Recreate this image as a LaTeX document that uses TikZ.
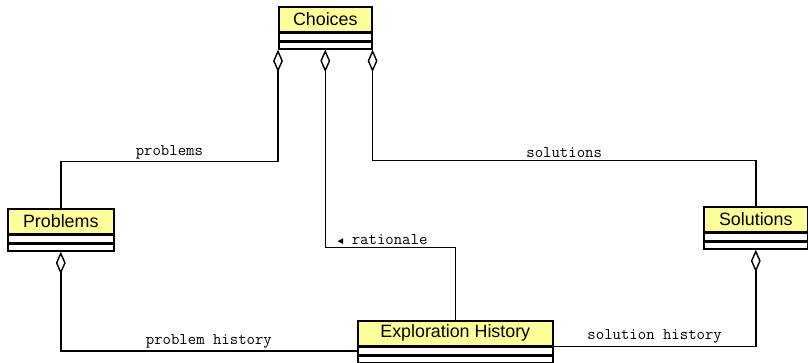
\documentclass[tikz,border=0pt]{standalone}
\usepackage{fontspec}
\setmainfont{Liberation Sans}
\newfontfamily\arrowfont{Liberation Mono}
\usetikzlibrary{arrows.meta}
\definecolor{classyellow}{RGB}{255,255,153}

\begin{document}
\begin{tikzpicture}[
    x=0.025cm, y=-0.025cm,
    every node/.style={text=black},
    classhead/.style={draw, line width=1.1pt, fill=classyellow, anchor=north west,
        minimum height=25*0.025cm, inner sep=0pt, font=\fontsize{12.7}{15}\selectfont},
    compartment/.style={draw, line width=1.1pt, fill=white, anchor=north,
        minimum height=7*0.025cm, inner sep=0pt},
    assoc/.style={line width=1.05pt},
    agg/.style={assoc, {Diamond[open, length=16pt, width=7pt, line width=1pt]}-},
    role/.style={above, inner sep=1.5pt, font=\ttfamily\fontsize{11.6}{13}\selectfont}
]
    \useasboundingbox (0,0) rectangle (808,362);

    % ==========================
    % Classes: name box plus two empty compartments
    % ==========================
    \foreach \cls/\x/\y/\w/\title in {
        choices/278/6/93/Choices,
        problems/7/208/106/Problems,
        solutions/703/206/104/Solutions,
        history/357/320/195/{Exploration History}}
    {
        \node[classhead, minimum width=\w*0.025cm] (\cls) at (\x,\y) {\title};
        \node[compartment, minimum width=\w*0.025cm] (\cls-attr) at (\cls.south) {};
        \node[compartment, minimum width=\w*0.025cm] (\cls-ops) at (\cls-attr.south) {};
    }

    % ==========================
    % Aggregations out of Choices
    % ==========================
    \draw[agg] (choices-ops.south west) -- ++(0,112)
        -| node[role, pos=0.25] {problems} (problems.north);
    \draw[agg] (choices-ops.south) -- ++(0,198)
        -| node[role, pos=0.22] {{\arrowfont\fontsize{7}{8}\selectfont ◄} rationale} (history.north);
    \draw[agg] (choices-ops.south east) -- ++(0,111)
        -| node[role, pos=0.25] {solutions} (solutions.north);

    % ==========================
    % Histories kept by Problems and Solutions
    % ==========================
    \draw[agg] (problems-ops.south) |- node[role, pos=0.75] {problem history} (history-attr.west);
    \draw[agg] (solutions-ops.south) |- node[role, pos=0.75] {solution history} (history.south east);

\end{tikzpicture}
\end{document}
